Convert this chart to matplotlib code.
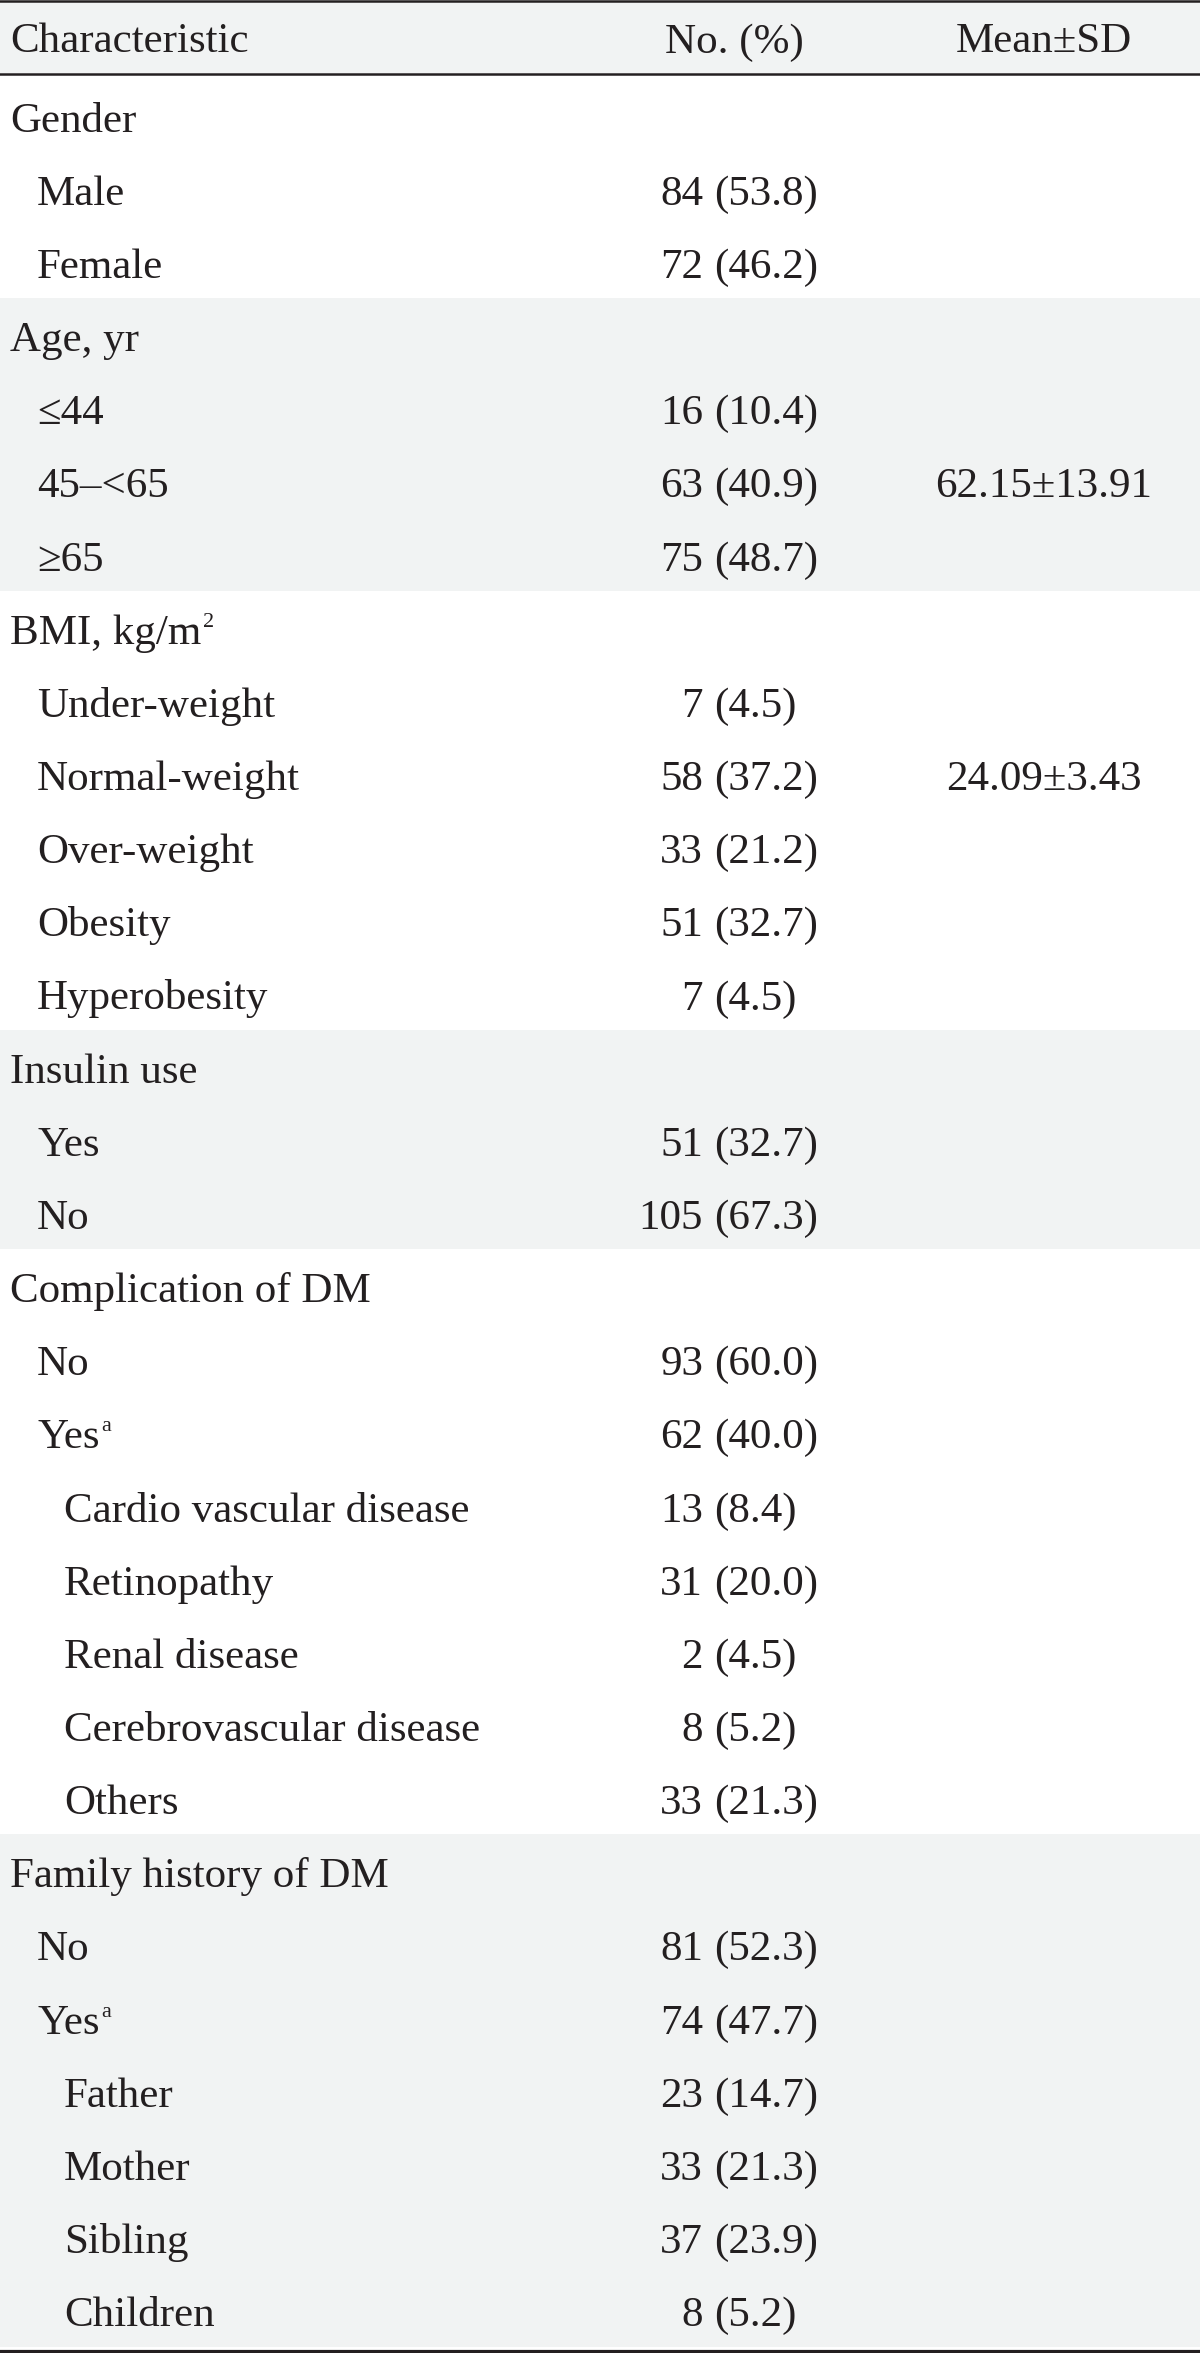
import matplotlib
matplotlib.use("Agg")
import matplotlib.pyplot as plt

plt.rcParams['font.family'] = ['Liberation Serif', 'DejaVu Serif']

# table content
headers = ["Characteristic", "No. (%)", "Mean\u00b1SD"]
labels = ["Gender", "Male", "Female",
          "Age, yr", "\u226444", "45\u2013<65", "\u226565",
          "BMI, kg/m", "Under-weight", "Normal-weight", "Over-weight", "Obesity", "Hyperobesity",
          "Insulin use", "Yes", "No",
          "Complication of DM", "No", "Yes", "Cardio vascular disease", "Retinopathy",
          "Renal disease", "Cerebrovascular disease", "Others",
          "Family history of DM", "No", "Yes", "Father", "Mother", "Sibling", "Children"]
sups = {7: "2", 18: "a", 26: "a"}
levels = [0, 1, 1,
          0, 1, 1, 1,
          0, 1, 1, 1, 1, 1,
          0, 1, 1,
          0, 1, 1, 2, 2, 2, 2, 2,
          0, 1, 1, 2, 2, 2, 2]
counts = ["", "84", "72",
          "", "16", "63", "75",
          "", "7", "58", "33", "51", "7",
          "", "51", "105",
          "", "93", "62", "13", "31", "2", "8", "33",
          "", "81", "74", "23", "33", "37", "8"]
pcts = ["", "53.8", "46.2",
        "", "10.4", "40.9", "48.7",
        "", "4.5", "37.2", "21.2", "32.7", "4.5",
        "", "32.7", "67.3",
        "", "60.0", "40.0", "8.4", "20.0", "4.5", "5.2", "21.3",
        "", "52.3", "47.7", "14.7", "21.3", "23.9", "5.2"]
means = {5: "62.15\u00b113.91", 9: "24.09\u00b13.43"}
# groups: (first row, last row, shaded)
groups = [(0, 2, False), (3, 6, True), (7, 12, False), (13, 15, True),
          (16, 23, False), (24, 30, True)]

W, H = 1200, 2353
ink = '#231f20'
shade = '#f1f3f3'
fs = 31
base0 = 131.7
step = 73.15
indent = {0: 10, 1: 37, 2: 64}

fig = plt.figure(figsize=(W / 100, H / 100), dpi=100)
ax = fig.add_axes([0, 0, 1, 1])
ax.set_xlim(0, W)
ax.set_ylim(H, 0)
ax.axis('off')

# header band
ax.axhspan(2, 73, color=shade, lw=0)
ax.text(10, 52.5, headers[0], fontsize=fs, color=ink, ha='left', va='baseline')
ax.text(734, 52.5, headers[1], fontsize=fs, color=ink, ha='center', va='baseline')
ax.text(1044, 52.5, headers[2], fontsize=fs, color=ink, ha='center', va='baseline')

# shaded groups
for first, last, shaded in groups:
    if shaded:
        top = base0 + first * step - 53
        bot = min(base0 + last * step + 20.5, 2349)
        ax.axhspan(top, bot, color=shade, lw=0)

# rows
for i, lab in enumerate(labels):
    y = base0 + i * step
    t = ax.text(indent[levels[i]], y, lab, fontsize=fs, color=ink, ha='left', va='baseline')
    if i in sups:
        # small raised letter right after the label
        ax.annotate(sups[i], xy=(1, y - 17), xycoords=(t, 'data'), xytext=(1, 0),
                    textcoords='offset points', fontsize=16, color=ink,
                    ha='left', va='baseline')
    if counts[i]:
        ax.text(703, y, counts[i], fontsize=fs, color=ink, ha='right', va='baseline')
        ax.text(714, y, "(" + pcts[i] + ")", fontsize=fs, color=ink, ha='left', va='baseline')
    if i in means:
        ax.text(1044, y, means[i], fontsize=fs, color=ink, ha='center', va='baseline')

# rules
ax.axhline(1.3, color=ink, lw=1.8)
ax.axhline(74, color=ink, lw=1.8)
ax.axhline(2351, color=ink, lw=2.3)

fig.savefig("out.png", dpi=100)
